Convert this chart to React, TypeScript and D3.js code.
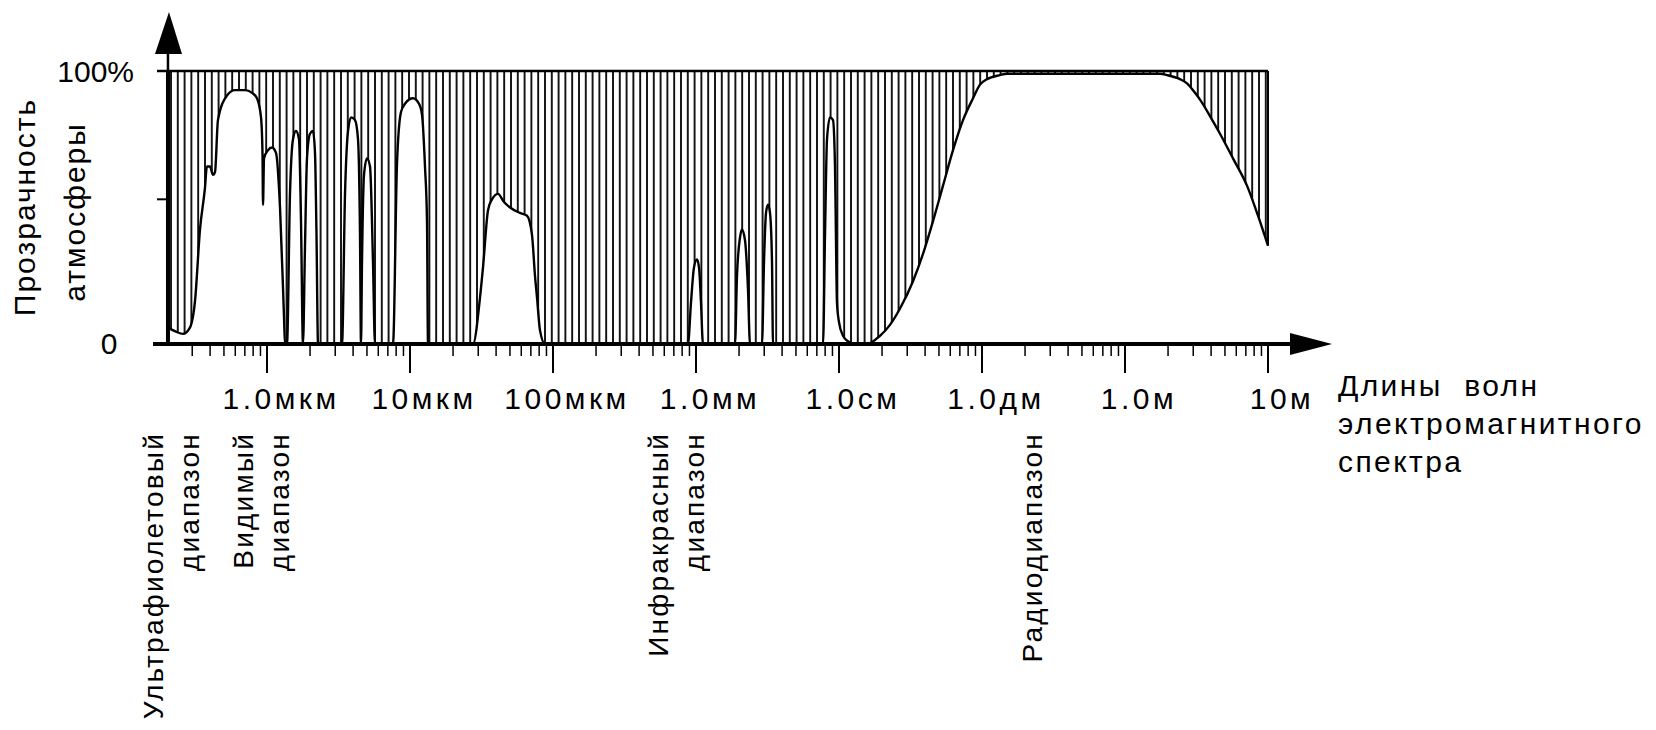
import React from 'react';
import * as d3 from 'd3';

// wavelength, micrometres (log axis)
const wavelengthUm = [
  0.203, 0.231, 0.259, 0.289, 0.314, 0.34, 0.368, 0.38, 0.399, 0.419, 0.433, 0.454, 0.525, 0.597,
  0.702, 0.785, 0.851, 0.908, 0.93, 0.938, 0.953, 1.016, 1.084, 1.156, 1.233, 1.315, 1.336, 1.38,
  1.448, 1.52, 1.595, 1.674, 1.729, 1.785, 1.844, 1.904, 1.998, 2.097, 2.166, 2.219, 2.274,
  3.346, 3.512, 3.686, 3.867, 4.125, 4.329, 4.47, 4.543, 4.617, 4.768, 5.004, 5.252, 5.511, 5.691,
  7.605, 8.111, 8.651, 9.227, 10.49, 11.56, 12.13, 12.73, 13.15, 13.36,
  27.58, 30.87, 32.39, 35.12, 37.45, 41.25, 45.42, 50.04, 58.78, 65.8, 71.3, 74.83, 77.3, 81.1, 87.9,
  879, 922, 968, 1016, 1050, 1084, 1119,
  1874, 1935, 2031, 2097, 2201, 2310, 2386,
  2894, 2989, 3087, 3188, 3292, 3400, 3455,
  7730, 7983, 8244, 8651, 9079, 9376, 9683, 10000, 10666, 11560, 12530, 15700,
  19350, 22730, 26710, 32920, 38670, 45430, 53380, 62700, 73660, 86520, 96830, 108400, 133600,
  149600, 1757000, 1967000, 2424000, 2714000, 3087000, 3346000, 3930000, 4617000, 5691000,
  7130000, 8513000, 10000000,
];

// atmospheric transparency, %
const transparency = [
  6, 4.5, 3.7, 6, 16, 42, 57, 65, 65, 62, 63, 82, 91, 93,
  93, 92, 90, 83, 70, 51, 68, 71, 72, 70, 50, 10, 0, 0,
  55, 75, 78, 75, 45, 0, 36, 68, 77, 78, 70, 40, 0,
  0, 55, 78, 83, 82, 75, 40, 0, 30, 62, 68, 65, 30, 0,
  0, 66, 85, 88, 90, 88, 84, 65, 45, 0,
  0, 17, 28, 49, 53, 55, 52, 50, 48, 47, 40, 25, 17, 5, 0,
  0, 15, 28, 31, 28, 15, 0,
  0, 25, 39, 42, 38, 20, 0,
  0, 30, 48, 51, 48, 30, 0,
  0, 40, 75, 83, 82, 65, 15, 8, 3, 1, 0, 0,
  3, 7, 13, 23, 33, 45, 58, 71, 82, 90, 95, 97, 98.5,
  99, 99, 98.5, 97, 95.5, 92, 89.5, 83.5, 77, 68,
  58, 47, 36,
];

const majorTicks = [1, 10, 100, 1e3, 1e4, 1e5, 1e6, 1e7];
const majorLabels = ['1.0мкм', '10мкм', '100мкм', '1.0мм', '1.0см', '1.0дм', '1.0м', '10м'];

const yTicks = [0, 53, 100];
const yLabels = ['0', '', '100%'];

const bandAt = [0.222, 0.953, 755, 234800];
const bandLines = [
  ['Ультрафиолетовый', 'диапазон'],
  ['Видимый', 'диапазон'],
  ['Инфракрасный', 'диапазон'],
  ['Радиодиапазон'],
];

const yTitle = ['Прозрачность', 'атмосферы'];
const xTitle = ['Длины  волн', 'электромагнитного', 'спектра'];

const W = 1656;
const H = 730;
const font = '"Liberation Sans", Arial, sans-serif';

export default function App() {
  const x = d3.scaleLog().domain([1, 1e7]).range([267, 1268]);
  const y = d3.scaleLinear().domain([0, 100]).range([344, 71]);

  const pts = wavelengthUm.map((w, i) => ({ w, t: transparency[i] }));

  const area = d3.area<{ w: number; t: number }>()
    .x(d => x(d.w))
    .y0(y(100))
    .y1(d => y(d.t))
    .curve(d3.curveMonotoneX);

  const line = d3.line<{ w: number; t: number }>()
    .x(d => x(d.w))
    .y(d => y(d.t))
    .curve(d3.curveMonotoneX);

  // log minor ticks 2..9 inside each decade
  const minorTicks: number[] = [];
  for (let e = -1; e < 7; e++) {
    for (let k = 2; k <= 9; k++) {
      const v = k * Math.pow(10, e);
      if (v > wavelengthUm[0] && v < 1e7) minorTicks.push(v);
    }
  }

  const x0 = x(wavelengthUm[0]);
  const xEnd = x(1e7);
  const base = y(0);

  return (
    <svg width={W} height={H} style={{ position: 'absolute', left: 0, top: 0, background: '#fff' }}
      fontFamily={font}>
      <defs>
        <pattern id="hatch" width={6.8} height={10} patternUnits="userSpaceOnUse">
          <line x1={1} x2={1} y1={0} y2={10} stroke="#000" strokeWidth={1.8} />
        </pattern>
      </defs>

      {/* hatched opaque part */}
      <path d={area(pts) || ''} fill="url(#hatch)" />
      <path d={line(pts) || ''} fill="none" stroke="#000" strokeWidth={2.4} />
      <line x1={157} x2={xEnd} y1={y(100)} y2={y(100)} stroke="#000" strokeWidth={2.5} />
      <line x1={xEnd} x2={xEnd} y1={y(100)} y2={y(transparency[transparency.length - 1])}
        stroke="#000" strokeWidth={2} />
      <line x1={x0} x2={x0} y1={y(100)} y2={base} stroke="#000" strokeWidth={4} />

      {/* y axis */}
      <line x1={x0} x2={x0} y1={base} y2={50} stroke="#000" strokeWidth={2.5} />
      <polygon points={`${x0 - 13},54 ${x0 + 1},12 ${x0 + 14},54`} fill="#000" />
      {yTicks.map((t, i) => (
        <g key={'yt' + i}>
          <line x1={157} x2={x0} y1={y(t)} y2={y(t)} stroke="#000" strokeWidth={2} />
          {yLabels[i] && (
            <text x={i === 0 ? 109 : 134} y={y(t) + (i === 0 ? 10 : 11)} fontSize={30}
              textAnchor={i === 0 ? 'middle' : 'end'}>{yLabels[i]}</text>
          )}
        </g>
      ))}

      {/* x axis */}
      <line x1={153} x2={1292} y1={base} y2={base} stroke="#000" strokeWidth={4} />
      <polygon points={`1290,${base - 11} 1332,${base} 1290,${base + 11}`} fill="#000" />
      {minorTicks.map((v, i) => (
        <line key={'mt' + i} x1={x(v)} x2={x(v)} y1={base} y2={base + 12} stroke="#000" strokeWidth={1.5} />
      ))}
      {majorTicks.map((v, i) => (
        <g key={'Mt' + i}>
          <line x1={x(v)} x2={x(v)} y1={base} y2={base + 29} stroke="#000" strokeWidth={2} />
          <text x={x(v) + 14} y={409} fontSize={30} textAnchor="middle" letterSpacing={3.5}>
            {majorLabels[i]}
          </text>
        </g>
      ))}

      {/* axis titles */}
      {yTitle.map((s, i) => (
        <text key={'yT' + i} transform={`translate(${35 + i * 50},${207 + i * 5}) rotate(-90)`}
          fontSize={30} textAnchor="middle" letterSpacing={2}>{s}</text>
      ))}
      {xTitle.map((s, i) => (
        <text key={'xT' + i} x={1338} y={396 + i * 38} fontSize={30} letterSpacing={2.4}
          style={{ whiteSpace: 'pre' }}>{s}</text>
      ))}

      {/* spectral bands */}
      {bandLines.map((lines, b) =>
        lines.map((s, i) => {
          const cx = x(bandAt[b]) + (i - (lines.length - 1) / 2) * 36 + 7;
          return (
            <text key={'b' + b + i} transform={`translate(${cx},432) rotate(-90)`}
              fontSize={28} textAnchor="end" letterSpacing={2.2}>{s}</text>
          );
        })
      )}
    </svg>
  );
}
